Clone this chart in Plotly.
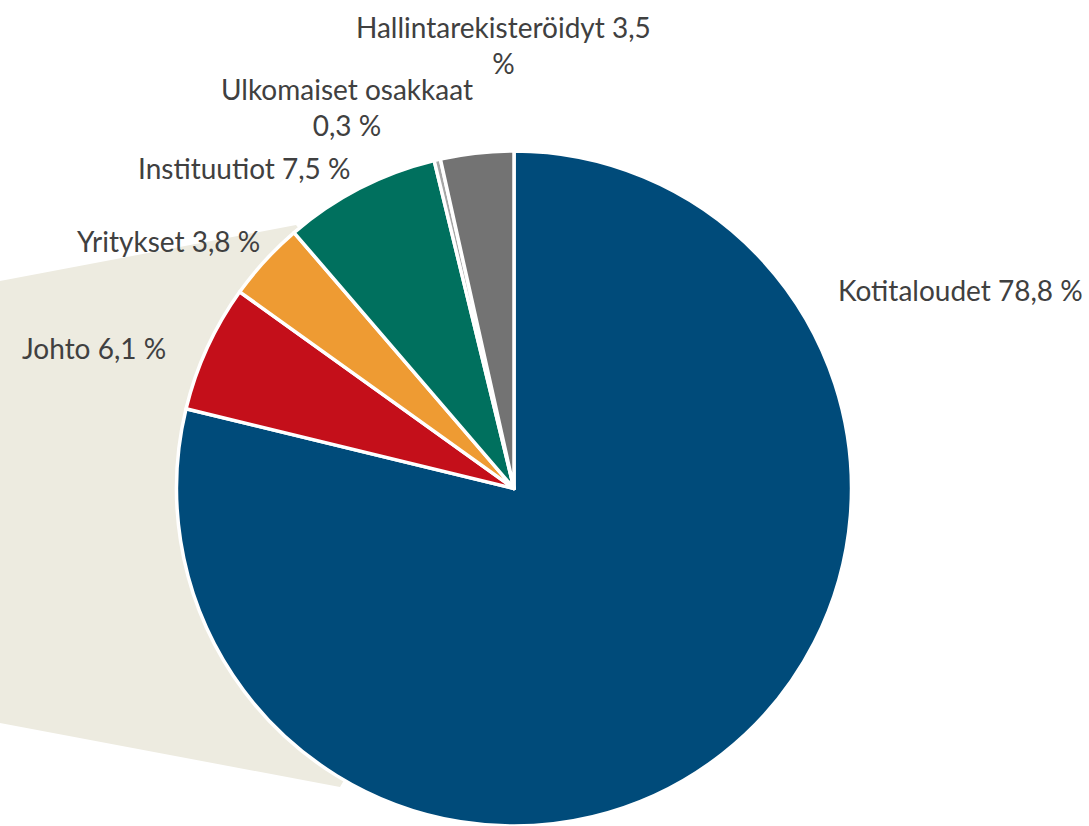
import plotly.graph_objects as go

categories = ["Kotitaloudet", "Johto", "Yritykset", "Instituutiot",
              "Ulkomaiset osakkaat", "Hallintarekisteröidyt"]
values = [78.8, 6.1, 3.8, 7.5, 0.3, 3.5]
colors = ["#004B7A", "#C40F1A", "#EE9B33", "#00705E", "#A6A6A6", "#737373"]
label_texts = ["Kotitaloudet 78,8 %", "Johto 6,1 %", "Yritykset 3,8 %",
               "Instituutiot 7,5 %", "Ulkomaiset osakkaat<br>0,3 %",
               "Hallintarekisteröidyt 3,5<br>%"]

W, H = 1089, 826
label_pos = [(960, 290), (94, 348), (168, 241), (244, 168), (347, 107), (503, 45)]

fig = go.Figure(go.Pie(
    labels=categories, values=values, sort=False, direction="clockwise",
    rotation=0, textinfo="none", hoverinfo="label+percent",
    marker=dict(colors=colors, line=dict(color="white", width=3.5)),
    domain=dict(x=[(514 - 339) / W, (514 + 339) / W], y=[0, 1 - 151 / H]),
    showlegend=False,
))

def px(x, y):
    return f"{x / W:.4f},{1 - y / H:.4f}"

path = "M " + " L ".join(px(x, y) for x, y in [(0, 281), (296, 225), (514, 490), (340, 787), (0, 723)]) + " Z"
fig.add_shape(type="path", path=path, xref="paper", yref="paper",
              fillcolor="#EDEBE0", line=dict(width=0), layer="below")

for t, (x, y) in zip(label_texts, label_pos):
    fig.add_annotation(text=t, x=x / W, y=1 - y / H, xref="paper", yref="paper",
                       showarrow=False, xanchor="center", yanchor="middle",
                       font=dict(family="Lato", size=28, color="#404040"))

fig.update_layout(width=W, height=H, margin=dict(l=0, r=0, t=0, b=0),
                  paper_bgcolor="white", plot_bgcolor="white")
fig.write_html("out.html", config={"displayModeBar": False},
               post_script="document.body.style.margin='0';document.body.style.overflow='hidden';")
